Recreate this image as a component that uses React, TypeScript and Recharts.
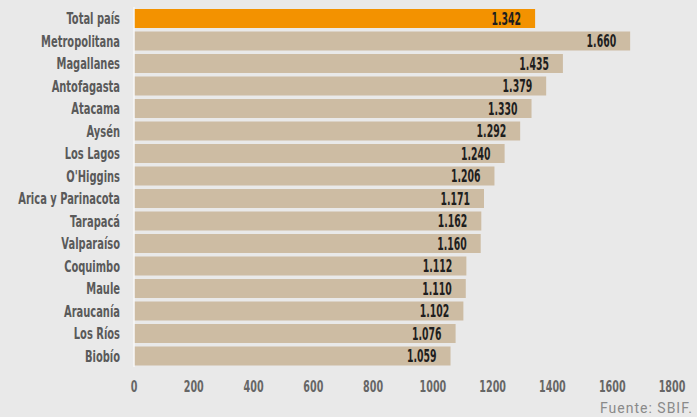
import React from 'react';
import { BarChart, Bar, XAxis, YAxis, Cell, LabelList } from 'recharts';

const regions = ['Total país', 'Metropolitana', 'Magallanes', 'Antofagasta', 'Atacama', 'Aysén', 'Los Lagos', "O'Higgins", 'Arica y Parinacota', 'Tarapacá', 'Valparaíso', 'Coquimbo', 'Maule', 'Araucanía', 'Los Ríos', 'Biobío'];
const values = [1342, 1660, 1435, 1379, 1330, 1292, 1240, 1206, 1171, 1162, 1160, 1112, 1110, 1102, 1076, 1059];
const xTicks = [0, 200, 400, 600, 800, 1000, 1200, 1400, 1600, 1800];

const data = regions.map((name, i) => ({ name, value: values[i] }));

const FONT = '"DejaVu Sans", sans-serif';

const fmt = (v: any) => {
  const s = String(v);
  return s.length > 3 ? s.slice(0, s.length - 3) + '.' + s.slice(-3) : s;
};

const YTick = (props: any) => {
  const { x, y, payload } = props;
  return (
    <text
      transform={`translate(${x},${y}) scale(0.62,1)`}
      x={0}
      y={0}
      dy="0.36em"
      textAnchor="end"
      fill="#5a5a5a"
      fontSize={16}
      fontWeight="bold"
      fontFamily={FONT}
    >
      {payload.value}
    </text>
  );
};

const XTick = (props: any) => {
  const { x, y, payload } = props;
  return (
    <text
      transform={`translate(${x},${y}) scale(0.64,1)`}
      x={0}
      y={0}
      dy="0.71em"
      textAnchor="middle"
      fill="#666666"
      fontSize={15}
      fontWeight="bold"
      fontFamily={FONT}
    >
      {payload.value}
    </text>
  );
};

const ValueLabel = (props: any) => {
  const { x, y, width, height, value } = props;
  const tx = Number(x) + Number(width) - 14;
  const ty = Number(y) + Number(height) / 2;
  return (
    <text
      transform={`translate(${tx},${ty}) scale(0.55,1)`}
      x={0}
      y={0}
      dy="0.36em"
      textAnchor="end"
      fill="#1e1e1e"
      fontSize={17}
      fontWeight="bold"
      fontFamily={FONT}
    >
      {fmt(value)}
    </text>
  );
};

export default function App() {
  return (
    <div style={{ position: 'fixed', left: 0, top: 0, width: 697, height: 417, background: '#e9e9e9' }}>
      <BarChart
        width={697}
        height={417}
        data={data}
        layout="vertical"
        margin={{ top: 7, right: 25, bottom: 20, left: 0 }}
      >
        <XAxis
          type="number"
          domain={[0, 1800]}
          ticks={xTicks}
          axisLine={false}
          tickLine={false}
          tickSize={0}
          tickMargin={14}
          height={30}
          interval={0}
          tick={<XTick />}
        />
        <YAxis
          type="category"
          dataKey="name"
          width={134}
          axisLine={{ stroke: '#f7f7f7', strokeWidth: 1.5 }}
          tickLine={false}
          tickSize={0}
          tickMargin={14}
          interval={0}
          tick={<YTick />}
        />
        <Bar dataKey="value" barSize={19} isAnimationActive={false}>
          {data.map((d, i) => (
            <Cell key={d.name} fill={i === 0 ? '#f39200' : '#cdbca3'} />
          ))}
          <LabelList dataKey="value" content={<ValueLabel />} />
        </Bar>
      </BarChart>
      <div
        style={{
          position: 'absolute',
          left: 600,
          top: 400,
          fontFamily: 'Roboto, "DejaVu Sans", sans-serif',
          fontSize: 14,
          letterSpacing: 1,
          color: '#8a8a8a',
          whiteSpace: 'nowrap',
          lineHeight: '17px',
        }}
      >
        Fuente: SBIF.
      </div>
    </div>
  );
}
